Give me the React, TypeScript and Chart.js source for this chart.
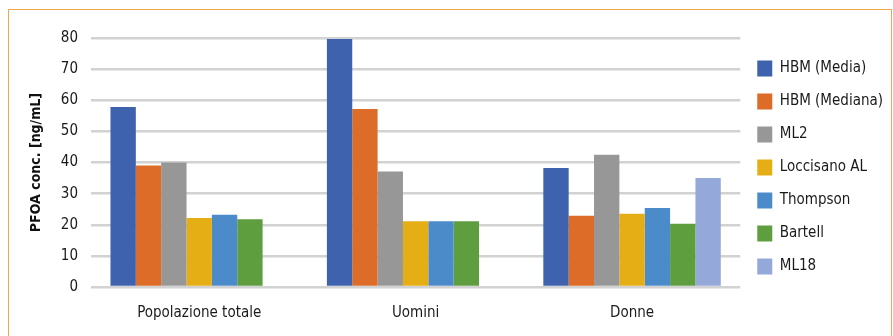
import React, { useEffect, useRef } from "react";
import { Chart, registerables } from "chart.js";

Chart.register(...registerables);

const categories = ["Popolazione totale", "Uomini", "Donne"];
const seriesNames = ["HBM (Media)", "HBM (Mediana)", "ML2", "Loccisano AL", "Thompson", "Bartell", "ML18"];
const hbmMedia = [57.8, 79.7, 38.2];
const hbmMediana = [39.0, 57.2, 22.9];
const ml2 = [40.0, 37.1, 42.5];
const loccisano = [22.2, 21.1, 23.5];
const thompson = [23.2, 21.1, 25.4];
const bartell = [21.8, 21.1, 20.3];
const ml18 = [null, null, 35.0];
const yTicks = [0, 10, 20, 30, 40, 50, 60, 70, 80];

const colors = ["#3F62AE", "#DD6C28", "#979797", "#E5AE14", "#4C8BC9", "#5E9E3F", "#94A9DA"];
const FONT = "'Liberation Sans Narrow', 'DejaVu Sans Condensed', sans-serif";

const shiftLegend = {
  id: "shiftLegend",
  afterLayout(chart: any) {
    const l = chart.legend;
    if (l) {
      l.top += 5;
      l.bottom += 5;
    }
  },
};

export default function App() {
  const ref = useRef<HTMLCanvasElement | null>(null);
  useEffect(() => {
    const values = [hbmMedia, hbmMediana, ml2, loccisano, thompson, bartell, ml18];
    const chart = new Chart(ref.current!, {
      type: "bar",
      data: {
        labels: categories,
        datasets: seriesNames.map((n, i) => ({
          label: n,
          data: values[i] as any,
          backgroundColor: colors[i],
          borderWidth: 0,
          categoryPercentage: 0.82,
          barPercentage: 1.0,
        })),
      },
      plugins: [shiftLegend],
      options: {
        animation: false,
        responsive: false,
        maintainAspectRatio: false,
        layout: { padding: { left: 28, top: 38, right: 0, bottom: 0 } },
        plugins: {
          tooltip: { enabled: false },
          legend: {
            position: "right",
            align: "center",
            fullSize: false,
            labels: {
              boxWidth: 15,
              boxHeight: 16,
              padding: 17,
              color: "#1a1a1a",
              font: { family: FONT, size: 15 },
            },
          },
        },
        scales: {
          x: {
            grid: { display: false },
            border: { display: false },
            ticks: { color: "#1a1a1a", font: { family: FONT, size: 15 }, padding: 9 },
            afterFit: (s: any) => { s.height = 49; },
          },
          y: {
            min: 0,
            max: 80,
            afterBuildTicks: (s: any) => { s.ticks = yTicks.map((v) => ({ value: v })); },
            grid: { color: "#d2d2d2", lineWidth: 2.5, drawTicks: false },
            border: { display: false },
            ticks: { color: "#1a1a1a", font: { family: FONT, size: 15 }, padding: 13 },
            title: {
              display: true,
              text: "PFOA conc. [ng/mL]",
              color: "#111",
              font: { family: FONT, size: 14, weight: "bold" },
              padding: 0,
            },
            afterFit: (s: any) => { s.width = 63; },
          },
        },
      },
    });
    return () => chart.destroy();
  }, []);
  return (
    <div>
      <div
        style={{
          position: "fixed",
          left: 8,
          top: 9,
          width: 884,
          height: 400,
          border: "1.5px solid #EFA84E",
          boxSizing: "border-box",
        }}
      />
      <canvas ref={ref} width={893} height={336} style={{ position: "fixed", left: 0, top: 0 }} />
    </div>
  );
}
